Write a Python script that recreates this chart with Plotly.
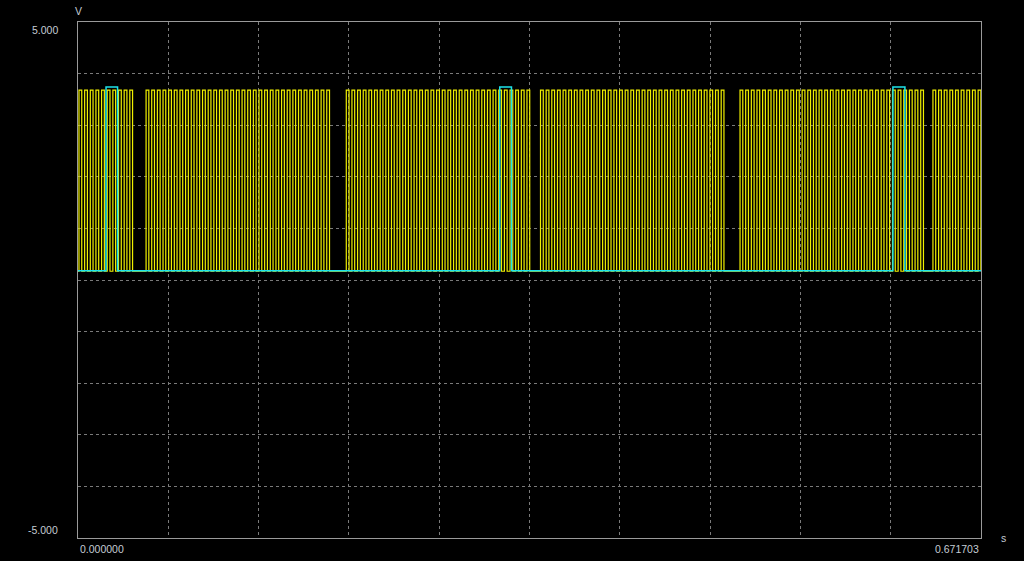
import plotly.graph_objects as go

# ---------------- data ----------------
# time axis span (s) and voltage axis span (V)
x_range = [0.0, 0.671703]
y_range = [-5.0, 5.0]
x_tick_values = [0.0, 0.671703]
x_tick_labels = ["0.000000", "0.671703"]
y_tick_values = [5.0, -5.0]
y_tick_labels = ["5.000", "-5.000"]
x_unit = "s"
y_unit = "V"

# yellow channel: bursts of square pulses
yellow_burst_start_s = [0.00074, 0.05064, 0.19957, 0.34404, 0.49246, 0.63596]
yellow_burst_pulses = [10, 33, 33, 33, 33, 9]
yellow_pulse_period_s = 0.00420
yellow_pulse_high_s = 0.00205
yellow_low_v = 0.17
yellow_high_v = 3.68

# cyan channel: single wide pulses
cyan_pulse_start_s = [0.02085, 0.31374, 0.60617]
cyan_pulse_end_s = [0.02942, 0.32245, 0.61511]
cyan_low_v = 0.18
cyan_high_v = 3.74

# ---------------- build step waveforms ----------------
yt, yv = [x_range[0]], [yellow_low_v]
for start, n in zip(yellow_burst_start_s, yellow_burst_pulses):
    for k in range(n):
        t_up = start + k * yellow_pulse_period_s
        t_dn = min(t_up + yellow_pulse_high_s, x_range[1])
        yt += [t_up, t_up, t_dn, t_dn]
        yv += [yellow_low_v, yellow_high_v, yellow_high_v, yellow_low_v]
yt.append(x_range[1]); yv.append(yellow_low_v)

ct, cv = [x_range[0]], [cyan_low_v]
for s, e in zip(cyan_pulse_start_s, cyan_pulse_end_s):
    ct += [s, s, e, e]
    cv += [cyan_low_v, cyan_high_v, cyan_high_v, cyan_low_v]
ct.append(x_range[1]); cv.append(cyan_low_v)

fig = go.Figure()
fig.add_trace(go.Scatter(x=yt, y=yv, mode="lines",
                         line=dict(color="#f0f000", width=1.2),
                         hoverinfo="skip", showlegend=False))
fig.add_trace(go.Scatter(x=ct, y=cv, mode="lines",
                         line=dict(color="#1ee4ea", width=1.5),
                         hoverinfo="skip", showlegend=False))

grid = dict(showgrid=True, gridcolor="#7a7a7a", griddash="dot", gridwidth=1,
            zeroline=False, showticklabels=False, ticks="",
            showline=True, linecolor="#9a9a9a", linewidth=1, mirror=True)

fig.update_layout(
    width=1024, height=561,
    margin=dict(l=78, r=43, t=22, b=23),
    paper_bgcolor="#000000", plot_bgcolor="#000000",
    xaxis=dict(range=x_range, tick0=x_range[0],
               dtick=(x_range[1] - x_range[0]) / 10, **grid),
    yaxis=dict(range=y_range, tick0=y_range[0], dtick=1, **grid),
    font=dict(family="Liberation Sans", size=10.5, color="#c4ccd4"),
    showlegend=False,
    hovermode=False,
)

ann = []
# y tick labels
ann.append(dict(x=0, xref="paper", y=y_tick_values[0], yref="y",
                text=y_tick_labels[0], xanchor="right", yanchor="top",
                xshift=-18, showarrow=False))
ann.append(dict(x=0, xref="paper", y=y_tick_values[1], yref="y",
                text=y_tick_labels[1], xanchor="right", yanchor="bottom",
                xshift=-18, showarrow=False))
# x tick labels
ann.append(dict(x=x_tick_values[0], xref="x", y=0, yref="paper",
                text=x_tick_labels[0], xanchor="left", yanchor="top",
                yshift=-3, showarrow=False))
ann.append(dict(x=x_tick_values[1], xref="x", y=0, yref="paper",
                text=x_tick_labels[1], xanchor="right", yanchor="top",
                yshift=-3, showarrow=False))
# unit labels
ann.append(dict(x=0, xref="paper", y=1, yref="paper", text=y_unit,
                xanchor="center", yanchor="bottom", yshift=3, showarrow=False))
ann.append(dict(x=1, xref="paper", y=0, yref="paper", text=x_unit,
                xanchor="center", yanchor="middle", xshift=22, showarrow=False))
fig.update_layout(annotations=ann)

# remove the default page margin so the figure fills the window
fig.write_html(
    "out.html",
    config={"displayModeBar": False},
    post_script="document.body.style.margin='0';"
                "document.body.style.background='#000';"
                "document.body.style.overflow='hidden';",
)
